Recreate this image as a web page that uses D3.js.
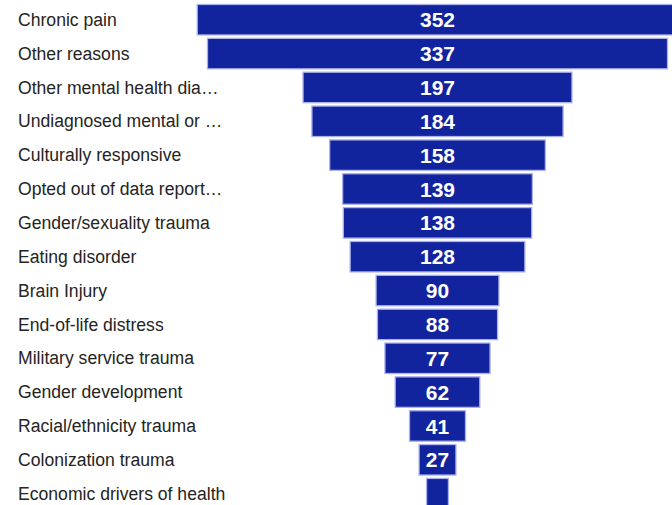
<!DOCTYPE html>
<html>
<head>
<meta charset="utf-8">
<script src="https://cdn.jsdelivr.net/npm/d3@7"></script>
<style>
  html, body { margin: 0; padding: 0; background: #ffffff; }
  svg { display: block; }
</style>
</head>
<body>
<svg id="chart" width="672" height="505"></svg>
<script>
// Funnel rows, top to bottom
const categories = [
  "Chronic pain",
  "Other reasons",
  "Other mental health dia\u2026",
  "Undiagnosed mental or \u2026",
  "Culturally responsive",
  "Opted out of data report\u2026",
  "Gender/sexuality trauma",
  "Eating disorder",
  "Brain Injury",
  "End-of-life distress",
  "Military service trauma",
  "Gender development",
  "Racial/ethnicity trauma",
  "Colonization trauma",
  "Economic drivers of health"
];
const values = [352, 337, 197, 184, 158, 139, 138, 128, 90, 88, 77, 62, 41, 27, 16];

const rows = categories.map((c, i) => ({ category: c, value: values[i] }));

const W = 672, H = 505;
const centerX = 437.5;
const maxWidth = 480.5;

const svg = d3.select("#chart");

const y = d3.scaleBand()
  .domain(categories)
  .range([4.5, 508.9])
  .paddingInner(0.1)
  .paddingOuter(0);

const w = d3.scaleLinear()
  .domain([0, d3.max(values)])
  .range([0, maxWidth]);

// Category labels on the left
svg.append("g")
  .selectAll("text")
  .data(rows)
  .join("text")
  .attr("x", 18)
  .attr("y", d => y(d.category) + y.bandwidth() / 2)
  .attr("dy", "0.35em")
  .attr("font-family", "Liberation Sans, Arial, sans-serif")
  .attr("font-size", "17.6px")
  .attr("fill", "#252423")
  .text(d => d.category);

// Centered funnel bars
svg.append("g")
  .selectAll("rect")
  .data(rows)
  .join("rect")
  .attr("x", d => centerX - w(d.value) / 2)
  .attr("y", d => y(d.category))
  .attr("width", d => w(d.value))
  .attr("height", y.bandwidth())
  .attr("fill", "#12239e")
  .attr("stroke", "#aab0ea")
  .attr("stroke-width", 1.3);

// Value labels inside bars (only where the bar is wide enough)
svg.append("g")
  .selectAll("text")
  .data(rows.filter(d => w(d.value) > 30))
  .join("text")
  .attr("x", centerX)
  .attr("y", d => y(d.category) + y.bandwidth() / 2)
  .attr("dy", "0.36em")
  .attr("text-anchor", "middle")
  .attr("font-family", "Liberation Sans, Arial, sans-serif")
  .attr("font-weight", "bold")
  .attr("font-size", "21px")
  .attr("fill", "#ffffff")
  .text(d => d.value);
</script>
</body>
</html>
